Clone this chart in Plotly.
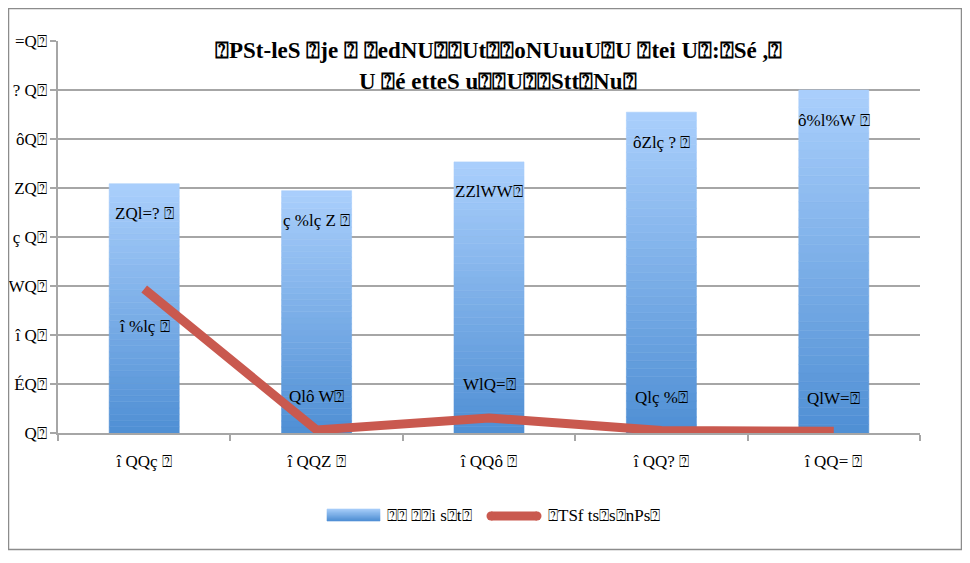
import plotly.graph_objects as go

# ---- data (text reproduced as shown in the reference) ----
categories = ["î QQç ⍰", "î QQZ ⍰", "î QQô ⍰", "î QQ? ⍰", "î QQ= ⍰"]
bar_values = [50.87, 49.45, 55.33, 65.47, 69.98]
bar_labels = ["ZQl=? ⍰", "ç %lç Z ⍰", "ZZlWW⍰", "ôZlç ? ⍰", "ô%l%W ⍰"]
line_values = [29.4, 0.63, 3.08, 0.49, 0.38]
line_labels = ["î %lç ⍰", "Qlô W⍰", "WlQ=⍰", "Qlç %⍰", "QlW=⍰"]
y_tickvals = [0, 10, 20, 30, 40, 50, 60, 70, 80]
y_ticktext = ["Q⍰", "ÉQ⍰", "î Q⍰", "WQ⍰", "ç Q⍰", "ZQ⍰", "ôQ⍰", "? Q⍰", "=Q⍰"]
title_lines = ["⍰PSt-leS ⍰je ⍰ ⍰edNU⍰⍰Ut⍰⍰oNUuuU⍰U ⍰tei U⍰:⍰Sé ,⍰",
               "U ⍰é etteS u⍰⍰U⍰⍰Stt⍰Nu⍰"]
legend_names = ["⍰⍰ ⍰⍰i s⍰t⍰", "⍰TSf ts⍰s⍰nPs⍰"]

FONT = "Liberation Serif"
TOP = (170, 207, 252)
BOT = (79, 143, 212)
N = 40


def mix(t):
    r, g, b = (round(BOT[i] + (TOP[i] - BOT[i]) * t) for i in range(3))
    return f"rgb({r},{g},{b})"


fig = go.Figure()

# gradient bars built from stacked slices of each bar's own value
for k in range(N):
    col = mix((k + 0.5) / N)
    fig.add_trace(go.Bar(
        x=categories,
        y=[v / N for v in bar_values],
        base=[v * k / N for v in bar_values],
        marker=dict(color=col, line=dict(width=0.6, color=col)),
        showlegend=False, hoverinfo="skip",
    ))

fig.add_trace(go.Scatter(
    x=categories, y=line_values, mode="lines",
    line=dict(color="#c9594f", width=9),
    showlegend=False, hoverinfo="skip",
))

LBL = dict(family=FONT, size=17, color="black")
ann = []
for c, v, t in zip(categories, bar_values, bar_labels):
    ann.append(dict(x=c, y=v, yshift=-30, text=t, showarrow=False, font=LBL))
for i, (c, v, t) in enumerate(zip(categories, line_values, line_labels)):
    ann.append(dict(x=c, y=v, yshift=-38 if i == 0 else 33, text=t,
                    showarrow=False, font=LBL))


def px(xp):
    return (xp - 58) / 862


def py(yp):
    return (433 - yp) / 392


# title
for yy, line in ((50, title_lines[0]), (81, title_lines[1])):
    ann.append(dict(xref="paper", yref="paper", x=px(498), y=py(yy),
                    xanchor="center", yanchor="middle",
                    text="<b>" + line + "</b>", showarrow=False,
                    font=dict(family=FONT, size=23, color="black")))

shapes = []
# outer frame
shapes.append(dict(type="rect", xref="paper", yref="paper",
                   x0=px(8.5), x1=px(961.5), y0=py(549.5), y1=py(8.5),
                   line=dict(color="#8c8c8c", width=1.5)))
# legend: gradient swatch
M = 12
for k in range(M):
    col = mix((M - k - 0.5) / M)
    shapes.append(dict(type="rect", xref="paper", yref="paper",
                       x0=px(327), x1=px(380),
                       y0=py(509 + (k + 1)), y1=py(509 + k),
                       line=dict(width=0.6, color=col), fillcolor=col))
ann.append(dict(xref="paper", yref="paper", x=px(385), y=py(515),
                xanchor="left", yanchor="middle", align="left",
                text=legend_names[0], showarrow=False,
                font=dict(family=FONT, size=17, color="black")))
# legend: line swatch
shapes.append(dict(type="line", xref="paper", yref="paper",
                   x0=px(491), x1=px(537), y0=py(516), y1=py(516),
                   line=dict(color="#c9594f", width=9)))
for xc in (491, 537):
    shapes.append(dict(type="circle", xref="paper", yref="paper",
                       x0=px(xc - 4.5), x1=px(xc + 4.5), y0=py(520.5), y1=py(511.5),
                       line=dict(width=0), fillcolor="#c9594f"))
ann.append(dict(xref="paper", yref="paper", x=px(546), y=py(515),
                xanchor="left", yanchor="middle", align="left",
                text=legend_names[1], showarrow=False,
                font=dict(family=FONT, size=17, color="black")))

fig.update_layout(
    width=954, height=547,
    margin=dict(l=50, r=42, t=33, b=122, autoexpand=False),
    paper_bgcolor="white", plot_bgcolor="white",
    barmode="overlay", bargap=0.594,
    showlegend=False,
    annotations=ann, shapes=shapes,
    font=dict(family=FONT, size=17, color="black"),
    xaxis=dict(
        type="category", automargin=False, showline=True, linecolor="#a6a6a6",
        linewidth=1.5, ticks="outside", tickson="boundaries", ticklen=6,
        tickcolor="#a6a6a6", tickwidth=1.5, showgrid=False,
        ticklabelstandoff=12, tickfont=dict(family=FONT, size=17),
    ),
    yaxis=dict(
        range=[0, 80], tickvals=y_tickvals, ticktext=y_ticktext,
        automargin=False, showline=True, linecolor="#a6a6a6", linewidth=1.5,
        ticks="outside", ticklen=6, tickcolor="#a6a6a6", tickwidth=1.5,
        showgrid=True, gridcolor="#a6a6a6", gridwidth=1.5, zeroline=False,
        tickfont=dict(family=FONT, size=17),
    ),
)

fig.write_html("out.html")
